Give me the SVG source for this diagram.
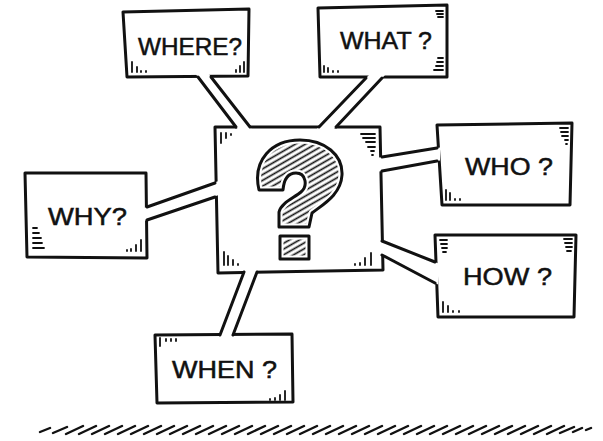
<svg xmlns="http://www.w3.org/2000/svg" width="603" height="441" viewBox="0 0 603 441">
<style>
.box{fill:#fff;stroke:#111;stroke-width:3;stroke-linejoin:round}
.tick{fill:none;stroke:#111;stroke-width:1.8;stroke-linecap:round}
.lbl{font-family:"Liberation Sans",Arial,sans-serif;font-size:24px;fill:#111;stroke:#111;stroke-width:0.5}
.con{fill:none;stroke:#111;stroke-width:3;stroke-linecap:round}
.band{fill:#fff;stroke:none}
.ground{fill:none;stroke:#111;stroke-width:2.4;stroke-linecap:round}
</style>
<defs>
<pattern id="hatch" width="5" height="5" patternUnits="userSpaceOnUse" patternTransform="rotate(-30)">
<line x1="-1" y1="2.5" x2="6" y2="2.5" stroke="#111" stroke-width="1.7"/>
</pattern>
<path id="qm" d="M259 190 C252 160 272 140 300 140 C325 140 343 155 342 175 C341 195 322 205 312 213 L309 227 L279 227 L279 212 C281 203 294 198 301 192 C308 186 306 173 296 173 C289 173 284 178 283 190 Z"/>
</defs>
<rect width="603" height="441" fill="#fff"/>

<g id="center">
<path class="box" d="M215 127 L380 127 L383 270 L218 273 Z"/>
<use href="#qm" fill="url(#hatch)"/>
<use href="#qm" fill="none" stroke="#fff" stroke-width="7" stroke-linejoin="round"/>
<use href="#qm" fill="none" stroke="#111" stroke-width="3" stroke-linejoin="round"/>
<rect x="280" y="236" width="29" height="23" fill="url(#hatch)"/>
<rect x="280" y="236" width="29" height="23" fill="none" stroke="#fff" stroke-width="7"/>
<rect x="280" y="236" width="29" height="23" fill="none" stroke="#111" stroke-width="3" stroke-linejoin="round"/>
<path class="tick" d="M221 133 V143 M226 133 V138 M231 134 V135 M361 134 h14 M363 138 h12 M366 142 h9 M368 147 h7 M371 151 h3 M372 155 h1 M224 252 V265 M228 256 V265 M233 260 V265 M238 264 V265 M355 264 V265 M360 263 V265 M365 258 V265 M371 253 V265"/>
</g>

<g id="where">
<path class="box" d="M123 12 L249 9 L248 76 L127 77 Z"/>
<text class="lbl" x="138" y="55" textLength="104" lengthAdjust="spacingAndGlyphs">WHERE?</text>
<path class="tick" d="M132 62 V72 M137 67 V72 M141 71 V72 M146 71 V72 M236 70 V72 M240 66 V72 M244 62 V72"/>
</g>

<g id="what">
<path class="box" d="M318 8 L447 5 L447 77 L320 77 Z"/>
<text class="lbl" x="340" y="49" textLength="92" lengthAdjust="spacingAndGlyphs">WHAT ?</text>
<path class="tick" d="M436 11 h7 M437 14 h6 M438 17 h5 M324 66 V72 M328 68 V72 M333 71 V72 M338 71 V72 M438 58 h5 M437 62 h6 M436 66 h7 M434 70 h9"/>
</g>

<g id="who">
<path class="box" d="M437 125 L572 123 L570 205 L442 205 Z"/>
<text class="lbl" x="465" y="175" textLength="88" lengthAdjust="spacingAndGlyphs">WHO ?</text>
<path class="tick" d="M560 128 h8 M561 132 h7 M562 136 h6 M565 140 h3 M566 144 h1 M446 190 V200 M450 193 V200 M455 199 V200 M460 199 V200"/>
</g>

<g id="how">
<path class="box" d="M435 235 L576 235 L574 317 L438 317 Z"/>
<text class="lbl" x="463" y="285" textLength="89" lengthAdjust="spacingAndGlyphs">HOW ?</text>
<path class="tick" d="M440 240 h7 M441 244 h6 M442 248 h5 M443 252 h3 M564 239 h8 M565 243 h7 M566 247 h6 M567 251 h4 M443 302 V312 M448 306 V312 M453 311 V312 M459 311 V312"/>
</g>

<g id="why">
<path class="box" d="M25 173 L146 173 L147 258 L27 257 Z"/>
<text class="lbl" x="48" y="225" textLength="79" lengthAdjust="spacingAndGlyphs">WHY?</text>
<path class="tick" d="M33 228 h4 M33 233 h6 M33 238 h8 M33 243 h9 M33 248 h11 M127 250 V251 M131 249 V251 M136 245 V251 M141 240 V251"/>
</g>

<g id="when">
<path class="box" d="M155 335 L292 334 L293 402 L157 403 Z"/>
<text class="lbl" x="172" y="378" textLength="105" lengthAdjust="spacingAndGlyphs">WHEN ?</text>
<path class="tick" d="M160 338 V346 M166 339 V341 M171 339 V341 M176 339 V341 M270 399 V400 M275 398 V400 M280 395 V400 M285 391 V400"/>
</g>

<g id="connectors">
<polygon class="band" points="195.7,74 208.7,74 252.3,130 238.3,130"/>
<path class="con" d="M198 77 L236 127 M211 77 L250 127"/>
<polygon class="band" points="369,75 385,75 333,130 316,130"/>
<path class="con" d="M366 78 L319 127 M382 78 L336 127"/>
<polygon class="band" points="379,157.5 440,147.5 440,160.5 379,171.5"/>
<path class="con" d="M382 157 L437 148 M382 171 L437 161"/>
<polygon class="band" points="379,239.8 438,263.2 438,284.6 379,253.4"/>
<path class="con" d="M382 241 L435 262 M382 255 L435 283"/>
<polygon class="band" points="144,208 218,181.3 218,195.3 144,221"/>
<path class="con" d="M147 207 L215 183 M147 220 L215 197"/>
<polygon class="band" points="218.9,338 231.9,338 258.1,269 245.1,269"/>
<path class="con" d="M220 335 L244 272 M233 335 L257 272"/>
</g>

<path class="ground" d="M40 432 l10 -4 M53 433 l14 -6 M66 434 l17 -8 M79 434 l17 -8 M92 434 l17 -8 M105 434 l17 -8 M118 434 l17 -8 M131 434 l17 -8 M144 434 l17 -8 M157 434 l17 -8 M170 434 l17 -8 M183 434 l17 -8 M196 434 l17 -8 M209 434 l17 -8 M222 434 l17 -8 M235 434 l17 -8 M248 434 l17 -8 M261 434 l17 -8 M274 434 l17 -8 M287 434 l17 -8 M300 434 l17 -8 M313 434 l17 -8 M326 434 l17 -8 M339 434 l17 -8 M352 434 l17 -8 M365 434 l17 -8 M378 434 l17 -8 M391 434 l17 -8 M404 434 l17 -8 M417 434 l17 -8 M430 434 l17 -8 M443 434 l17 -8 M456 434 l17 -8 M469 434 l17 -8 M482 434 l17 -8 M495 434 l17 -8 M508 434 l17 -8 M521 434 l17 -8 M534 434 l17 -8 M547 434 l17 -8 M560 433 l14 -6 M573 432 l9 -4 M586 430 l5 -2"/>
</svg>
